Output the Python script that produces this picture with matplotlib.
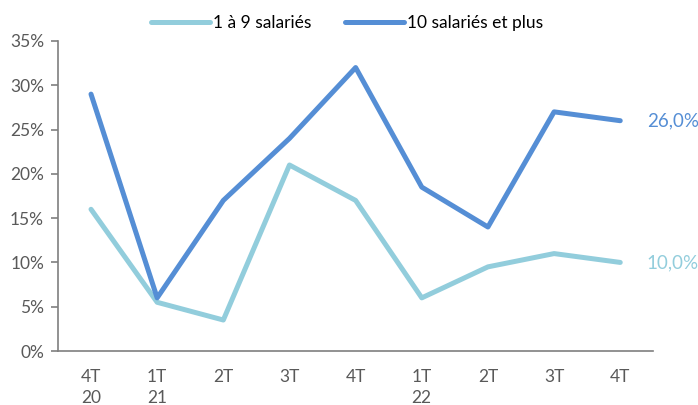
import matplotlib.pyplot as plt
from matplotlib.ticker import FuncFormatter

categories = ["4T\n20", "1T\n21", "2T", "3T", "4T", "1T\n22", "2T", "3T", "4T"]
petites = [16, 5.5, 3.5, 21, 17, 6, 9.5, 11, 10]
grandes = [29, 6, 17, 24, 32, 18.5, 14, 27, 26]

c_light = "#92CDDC"
c_dark = "#558ED5"
grey = "#595959"

plt.rcParams.update({"font.family": ["Lato", "DejaVu Sans"], "font.size": 12})

fig = plt.figure(figsize=(6.98, 4.05), dpi=100)
ax = fig.add_axes([0.083, 0.1333, 0.853, 0.7655])

x = list(range(len(categories)))
ax.plot(x, petites, color=c_light, lw=3.6, solid_capstyle="round", label="1 à 9 salariés")
ax.plot(x, grandes, color=c_dark, lw=3.6, solid_capstyle="round", label="10 salariés et plus")

ax.set_xlim(-0.5, len(categories) - 0.5)
ax.set_ylim(0, 35)
ax.set_yticks(range(0, 36, 5))
ax.yaxis.set_major_formatter(FuncFormatter(lambda v, p: f"{v:.0f}%"))
ax.set_xticks(x)
ax.set_xticklabels(categories)
ax.tick_params(axis="x", length=0, pad=13, colors=grey, labelsize=12.5)
ax.tick_params(axis="y", length=5, width=1.2, color="#7f7f7f", colors=grey, labelsize=12.5, pad=5)
for lbl in ax.get_xticklabels():
    lbl.set_horizontalalignment("center")
    lbl.set_multialignment("left")
    lbl.set_linespacing(1.4)

for s in ["top", "right"]:
    ax.spines[s].set_visible(False)
for s in ["left", "bottom"]:
    ax.spines[s].set_color("#7f7f7f")
    ax.spines[s].set_linewidth(1.2)

ax.annotate(f"{grandes[-1]:.1f}%".replace(".", ","), (x[-1], grandes[-1]),
            xytext=(19, 0), textcoords="offset points", va="center",
            color=c_dark, fontsize=13.5, annotation_clip=False)
ax.annotate(f"{petites[-1]:.1f}%".replace(".", ","), (x[-1], petites[-1]),
            xytext=(19, 0), textcoords="offset points", va="center",
            color=c_light, fontsize=13.5, annotation_clip=False)

fig.legend(loc="center", bbox_to_anchor=(0.497, 0.942), ncol=2, frameon=False,
           fontsize=12.5, handlelength=3.4, handletextpad=0.2, columnspacing=1.9)

fig.savefig("out.png", dpi=100)
